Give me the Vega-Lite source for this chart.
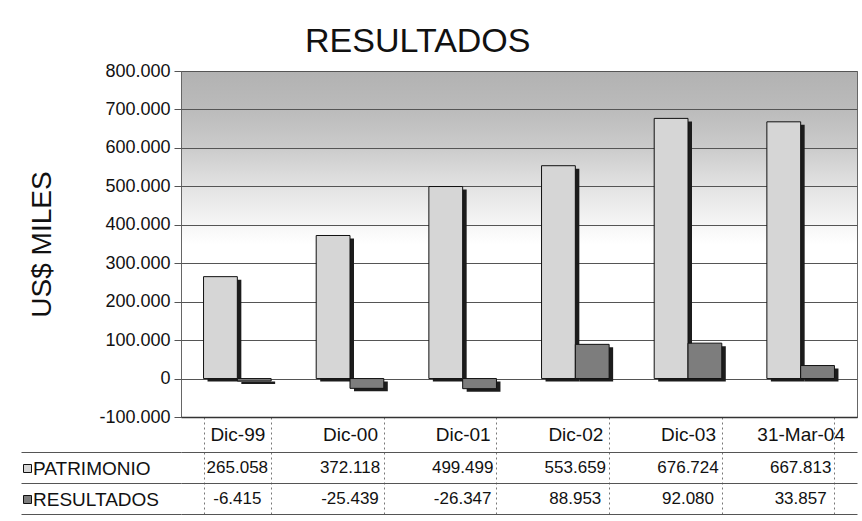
{
  "$schema": "https://vega.github.io/schema/vega-lite/v6.json",
  "background": "white",
  "padding": {"left": 18, "top": 24, "right": 7, "bottom": 5},
  "config": {
    "font": "Liberation Sans",
    "locale": {"number": {"decimal": ",", "thousands": ".", "grouping": [3], "currency": ["$", ""], "minus": "-"}},
    "axis": {"labelFont": "Liberation Sans", "titleFont": "Liberation Sans", "labelColor": "#111", "titleColor": "#111"},
    "legend": {"labelFont": "Liberation Sans"}
  },
  "title": {"text": "RESULTADOS", "fontSize": 34, "fontWeight": "normal", "color": "#111", "anchor": "middle", "offset": 3, "dx": -20},
  "data": {"values": [
    {"cat": "Dic-99", "series": "PATRIMONIO", "value": 265058},
    {"cat": "Dic-00", "series": "PATRIMONIO", "value": 372118},
    {"cat": "Dic-01", "series": "PATRIMONIO", "value": 499499},
    {"cat": "Dic-02", "series": "PATRIMONIO", "value": 553659},
    {"cat": "Dic-03", "series": "PATRIMONIO", "value": 676724},
    {"cat": "31-Mar-04", "series": "PATRIMONIO", "value": 667813},
    {"cat": "Dic-99", "series": "RESULTADOS", "value": -6415},
    {"cat": "Dic-00", "series": "RESULTADOS", "value": -25439},
    {"cat": "Dic-01", "series": "RESULTADOS", "value": -26347},
    {"cat": "Dic-02", "series": "RESULTADOS", "value": 88953},
    {"cat": "Dic-03", "series": "RESULTADOS", "value": 92080},
    {"cat": "31-Mar-04", "series": "RESULTADOS", "value": 33857}
  ]},
  "spacing": 0,
  "vconcat": [
    {
      "width": 676,
      "height": 346,
      "view": {
        "stroke": "#666",
        "strokeWidth": 1,
        "fill": {"gradient": "linear", "x1": 0, "y1": 0, "x2": 0, "y2": 1, "stops": [
          {"offset": 0, "color": "#b2b2b2"},
          {"offset": 0.11, "color": "#bbbbbb"},
          {"offset": 0.22, "color": "#cbcbcb"},
          {"offset": 0.33, "color": "#e2e2e2"},
          {"offset": 0.44, "color": "#f5f5f5"},
          {"offset": 0.5, "color": "#ffffff"},
          {"offset": 1, "color": "#ffffff"}
        ]}
      },
      "encoding": {
        "x": {
          "field": "cat", "type": "nominal", "sort": null,
          "scale": {"paddingInner": 0.4, "paddingOuter": 0.2},
          "axis": {
            "title": null, "labelAngle": 0, "labelFontSize": 19, "labelBaseline": "middle",
            "tickBand": "extent", "tickSize": 33, "tickColor": "#777", "tickDash": [2, 3],
            "labelPadding": -16, "domainColor": "#333", "domainWidth": 1.5
          }
        },
        "y": {
          "field": "value", "type": "quantitative",
          "scale": {"domain": [-100000, 800000], "nice": false},
          "axis": {
            "title": "US$ MILES", "titleFontSize": 28, "titleFontWeight": "normal", "titlePadding": 42,
            "values": [-100000, 0, 100000, 200000, 300000, 400000, 500000, 600000, 700000, 800000],
            "format": ",d", "labelFontSize": 18, "tickSize": 7, "labelPadding": 4,
            "gridColor": "#555", "gridWidth": 1, "gridOpacity": 1, "domain": false, "tickColor": "#555"
          }
        }
      },
      "resolve": {"scale": {"xOffset": "independent"}},
      "layer": [
        {
          "mark": {"type": "bar", "color": "#1c1c1c", "yOffset": 3, "y2Offset": 3},
          "encoding": {
            "xOffset": {"field": "series", "sort": ["PATRIMONIO", "RESULTADOS"], "scale": {"range": [4, 71.6]}}
          }
        },
        {
          "mark": {"type": "bar", "stroke": "#111", "strokeWidth": 1},
          "encoding": {
            "xOffset": {"field": "series", "sort": ["PATRIMONIO", "RESULTADOS"]},
            "color": {
              "field": "series", "type": "nominal",
              "scale": {"domain": ["PATRIMONIO", "RESULTADOS"], "range": ["#d6d6d6", "#7d7d7d"]},
              "legend": {
                "title": null, "orient": "none", "legendX": -163, "legendY": 388,
                "symbolType": "square", "symbolSize": 64, "symbolStrokeColor": "#111", "symbolStrokeWidth": 1,
                "labelFontSize": 19, "labelColor": "#111", "rowPadding": 11, "labelOffset": -4
              }
            }
          }
        }
      ]
    },
    {
      "width": 676,
      "height": 62,
      "view": {"stroke": null},
      "mark": {"type": "text", "fontSize": 17, "color": "#111"},
      "encoding": {
        "x": {
          "field": "cat", "type": "nominal", "sort": null,
          "scale": {"paddingInner": 0.4, "paddingOuter": 0.2},
          "axis": {"title": null, "labels": false, "ticks": false, "domain": false, "grid": true, "tickBand": "extent", "gridColor": "#777", "gridDash": [2, 3], "gridOpacity": 1}
        },
        "y": {
          "field": "series", "type": "nominal", "sort": ["PATRIMONIO", "RESULTADOS"],
          "axis": {"title": null, "labels": false, "domain": false, "grid": true, "tickBand": "extent", "tickSize": 160, "tickColor": "#555", "gridColor": "#555", "gridOpacity": 1}
        },
        "text": {"field": "value", "type": "quantitative", "format": ",d"}
      }
    }
  ]
}
